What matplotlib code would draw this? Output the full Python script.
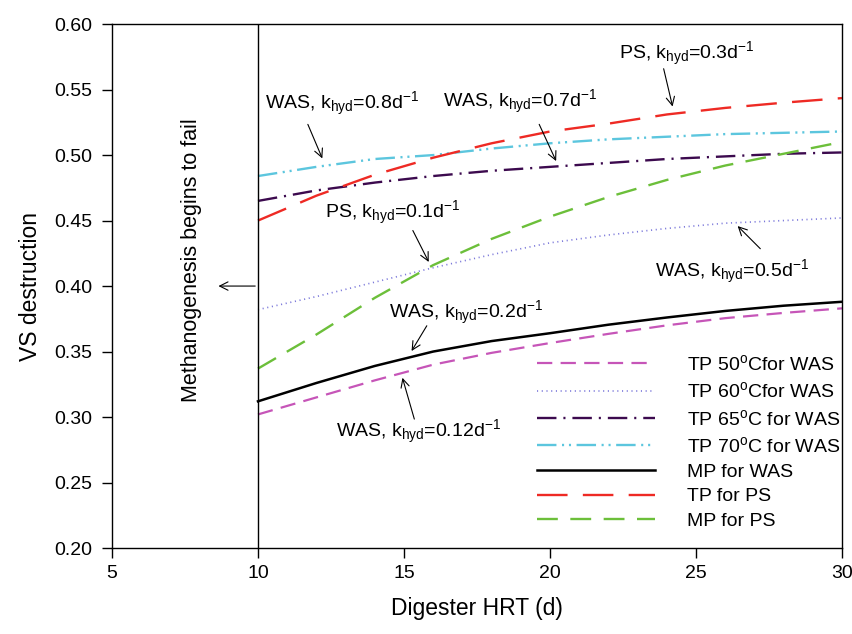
import matplotlib
matplotlib.use("Agg")
import matplotlib.pyplot as plt

plt.rcParams["font.family"] = ["Liberation Sans", "DejaVu Sans"]
plt.rcParams["mathtext.fontset"] = "custom"
plt.rcParams["mathtext.rm"] = "Liberation Sans"
plt.rcParams["mathtext.it"] = "Liberation Sans"
plt.rcParams["lines.scale_dashes"] = False

# ---- data ----
hrt = [10, 12, 14, 16, 18, 20, 22, 24, 26, 28, 30]

tp50_was = [0.302, 0.315, 0.328, 0.340, 0.349, 0.3565, 0.3635, 0.370, 0.3755, 0.3795, 0.383]
tp60_was = [0.382, 0.392, 0.403, 0.414, 0.424, 0.433, 0.439, 0.444, 0.448, 0.450, 0.452]
tp65_was = [0.465, 0.473, 0.479, 0.484, 0.488, 0.491, 0.494, 0.497, 0.499, 0.501, 0.502]
tp70_was = [0.484, 0.491, 0.497, 0.500, 0.505, 0.509, 0.512, 0.514, 0.516, 0.517, 0.518]
mp_was   = [0.312, 0.326, 0.339, 0.350, 0.358, 0.364, 0.3705, 0.376, 0.381, 0.385, 0.388]
tp_ps    = [0.450, 0.469, 0.485, 0.498, 0.509, 0.518, 0.524, 0.531, 0.536, 0.540, 0.5435]
mp_ps    = [0.337, 0.363, 0.391, 0.416, 0.436, 0.453, 0.468, 0.481, 0.492, 0.501, 0.510]

labels = [
    r"TP 50$^{\mathrm{o}}$Cfor WAS",
    r"TP 60$^{\mathrm{o}}$Cfor WAS",
    r"TP 65$^{\mathrm{o}}$C for WAS",
    r"TP 70$^{\mathrm{o}}$C for WAS",
    "MP for WAS",
    "TP for PS",
    "MP for PS",
]

# (substrate, k_hyd, text xy, arrow start, arrow tip)
notes = [
    ("WAS", "0.8", (12.88, 0.539), (11.67, 0.5254), (12.24, 0.4955)),
    ("WAS", "0.7", (18.97, 0.5405), (19.59, 0.5254), (20.25, 0.4935)),
    ("PS", "0.3", (24.69, 0.577), (23.87, 0.568), (24.22, 0.5350)),
    ("PS", "0.1", (14.62, 0.4557), (15.26, 0.4443), (15.89, 0.4165)),
    ("WAS", "0.5", (26.22, 0.4107), (27.27, 0.427), (26.36, 0.4473)),
    ("WAS", "0.2", (17.12, 0.3794), (15.83, 0.3715), (15.21, 0.3486)),
    ("WAS", "0.12", (15.48, 0.2888), (15.38, 0.2964), (14.92, 0.332)),
]

fig = plt.figure(figsize=(8.53, 6.34), dpi=100)
ax = fig.add_axes([0.1313, 0.1356, 0.8558, 0.8264])

ax.plot(hrt, tp50_was, color="#C655B8", lw=1.6, dashes=(11, 6), label=labels[0])
ax.plot(hrt, tp60_was, color="#7B78DA", lw=1.2, dashes=(0.8, 2.6), label=labels[1])
ax.plot(hrt, tp65_was, color="#3C0A4E", lw=1.7, dashes=(14, 5, 1.5, 5), label=labels[2])
ax.plot(hrt, tp70_was, color="#5CC6DE", lw=1.7, dashes=(14, 4, 1.5, 3.5, 1.5, 4), label=labels[3])
ax.plot(hrt, mp_was, color="black", lw=1.8, label=labels[4])
ax.plot(hrt, tp_ps, color="#EE2A24", lw=1.7, dashes=(22, 11), label=labels[5])
ax.plot(hrt, mp_ps, color="#6CBF3A", lw=1.7, dashes=(15, 9), label=labels[6])

ax.axvline(10, color="black", lw=1.0)

for src, k, txy, start, tip in notes:
    ax.text(txy[0], txy[1],
            src + r", k$_{\mathrm{hyd}}$=" + k + r"d$^{\mathrm{-1}}$",
            ha="center", va="center", fontsize=14)
    ax.annotate("", xy=tip, xytext=start,
                arrowprops=dict(arrowstyle="->", color="black", lw=0.8,
                                mutation_scale=15))

ax.text(7.73, 0.420, "Methanogenesis begins to fail", rotation=90,
        ha="center", va="center", fontsize=15.5)
ax.annotate("", xy=(8.55, 0.40), xytext=(10, 0.40),
            arrowprops=dict(arrowstyle="->", color="black", lw=0.8,
                            mutation_scale=15))

ax.set_xlim(5, 30)
ax.set_ylim(0.20, 0.60)
ax.set_xticks([5, 10, 15, 20, 25, 30])
ax.set_yticks([0.20, 0.25, 0.30, 0.35, 0.40, 0.45, 0.50, 0.55, 0.60])
ax.set_yticklabels([f"{v:.2f}" for v in ax.get_yticks()])
ax.tick_params(direction="out", length=7, width=1, labelsize=14)
ax.tick_params(axis="x", pad=5)
ax.tick_params(axis="y", pad=7)
for s in ax.spines.values():
    s.set_linewidth(1.0)
ax.set_xlabel("Digester HRT (d)", fontsize=16.5, labelpad=11)
ax.set_ylabel("VS destruction", fontsize=16.5, labelpad=9)

ax.legend(loc="upper left", bbox_to_anchor=(0.582, 0.37), frameon=False,
          fontsize=14, handlelength=6.1, handletextpad=1.6,
          labelspacing=0.37, borderpad=0, borderaxespad=0)

fig.savefig("out.png", dpi=100)
